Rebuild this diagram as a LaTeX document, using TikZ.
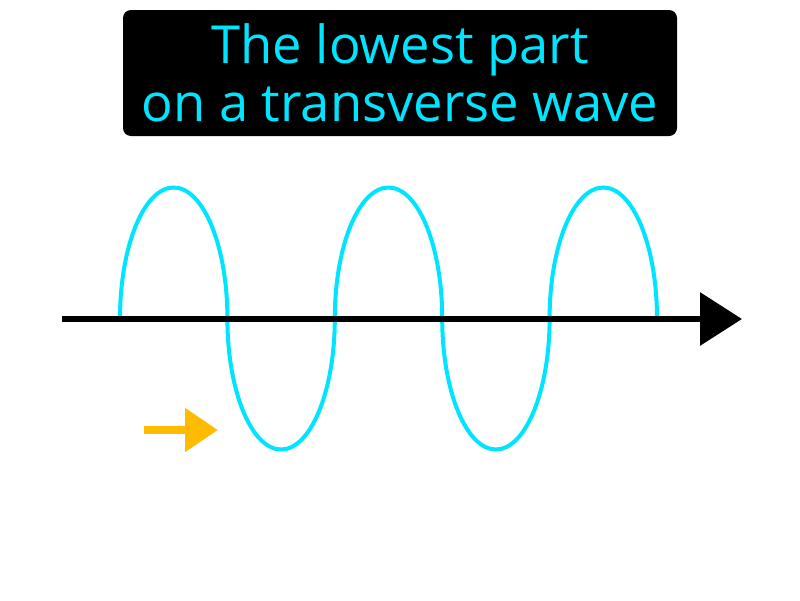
\documentclass[tikz,border=0pt]{standalone}
\usepackage{fontspec}
\setmainfont{Open Sans}
\usetikzlibrary{arrows.meta}
\definecolor{wavecyan}{RGB}{0,229,255}
\definecolor{arroworange}{RGB}{255,187,0}
\begin{document}
\begin{tikzpicture}[x=1pt,y=-1pt,
    title/.style={fill=black,rounded corners=8pt,text=wavecyan,align=center,
      minimum width=554pt,minimum height=126pt,inner sep=0pt,
      font=\fontsize{52.5}{58}\selectfont},
    wave/.style={wavecyan,line width=4pt},
    axis/.style={line width=6.5pt,-{Triangle[length=42pt,width=52pt]}},
    push/.style={arroworange,line width=8pt,-{Triangle[length=33pt,width=42pt]}}]
    \useasboundingbox (0,0) rectangle (800,600);
    \node[title] (title) at (400,73) {The lowest part\\on a transverse wave};
    \coordinate (wavestart) at (120,318.5);
    \coordinate (axisstart) at (62,319);
    \coordinate (axisend) at (742,319);
    \coordinate (pushstart) at (144,430);
    \coordinate (pushend) at (218,430);
    % five half-ellipse humps, up and down in turn
    \draw[wave] (wavestart) \foreach \s in {1,-1,1,-1,1} {
      arc[start angle=180,end angle={180+\s*180},x radius=53.7,y radius=131]};
    \draw[axis] (axisstart) -- (axisend);
    \draw[push] (pushstart) -- (pushend);
  \end{tikzpicture}
\end{document}
